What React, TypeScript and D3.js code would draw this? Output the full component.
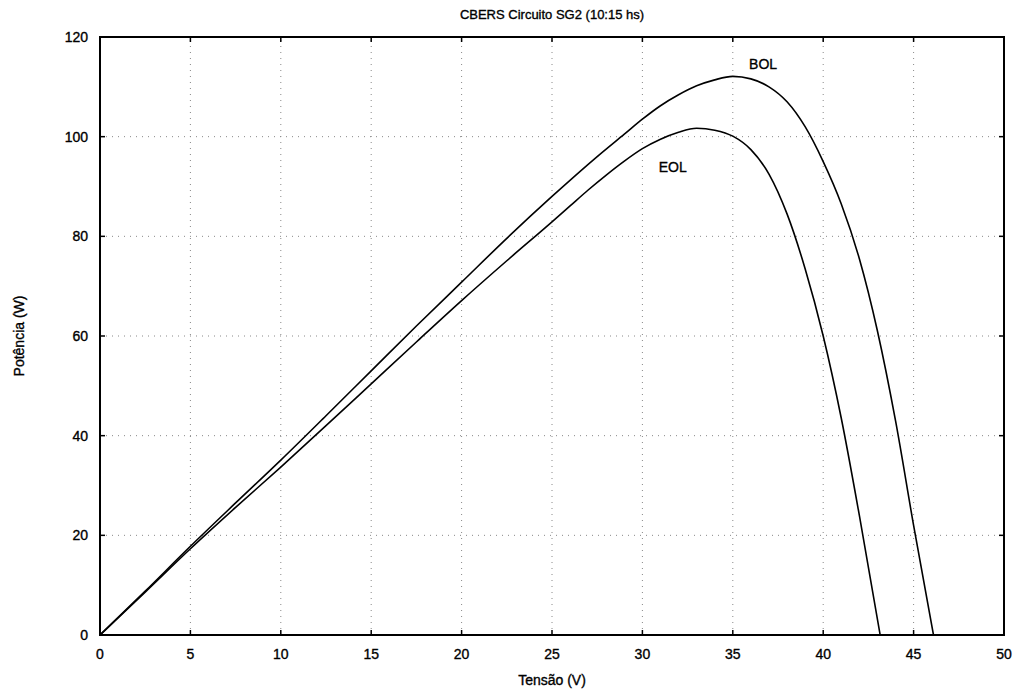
import React from "react";
import { scaleLinear, line, curveMonotoneX } from "d3";

// tensão (V) / potência (W)
const bolV = [0, 2.5, 5, 7.5, 10, 12.5, 15, 17.5, 20, 22.5, 25, 27.5, 29, 30, 31, 32, 33, 34, 35, 36, 37, 38, 39, 40, 41, 42, 43, 44, 45, 46.1, 50];
const bolP = [0, 8.8, 17.8, 26.5, 35.1, 44, 53, 62, 70.8, 79.6, 88, 96, 100.5, 103.5, 106.2, 108.4, 110.2, 111.4, 112.1, 111.6, 110, 107, 102, 95, 86.5, 75.5, 61, 43, 22, 0, 0];

const eolV = [0, 2.5, 5, 7.5, 10, 12.5, 15, 17.5, 20, 22.5, 25, 26, 27, 28, 29, 30, 31, 32, 33, 34, 35, 36, 37, 38, 39, 40, 41, 42, 43.15, 50];
const eolP = [0, 8.6, 17.3, 25.6, 33.7, 42, 50.4, 58.8, 67.1, 75.1, 82.9, 86.1, 89.3, 92.3, 95.1, 97.6, 99.5, 100.9, 101.7, 101.3, 100.1, 97.4, 92.5, 84.5, 73.5, 60, 43.5, 24, 0, 0];

const xTicks = [0, 5, 10, 15, 20, 25, 30, 35, 40, 45, 50];
const yTicks = [0, 20, 40, 60, 80, 100, 120];

const title = "CBERS Circuito SG2 (10:15 hs)";
const xLabel = "Tensão (V)";
const yLabel = "Potência (W)";

const W = 1026, H = 694;
const m = { left: 100, right: 22, top: 37, bottom: 59 };
const font = "'Liberation Sans', Arial, sans-serif";

export default function App() {
  const x = scaleLinear().domain([0, 50]).range([m.left, W - m.right]);
  const y = scaleLinear().domain([0, 120]).range([H - m.bottom, m.top]);

  // smooth curve up to the zero crossing, then straight along P = 0
  const curvePath = (vs: number[], ps: number[]) => {
    const pts = vs.map((v, i) => [v, ps[i]] as [number, number]);
    const cut = pts.findIndex((p, i) => i > 0 && p[1] === 0);
    const smooth = line<[number, number]>()
      .x((d) => x(d[0]))
      .y((d) => y(d[1]))
      .curve(curveMonotoneX)(pts.slice(0, cut + 1));
    const rest = pts.slice(cut + 1).map((p) => `L${x(p[0])},${y(p[1])}`).join("");
    return (smooth || "") + rest;
  };

  const bolPath = curvePath(bolV, bolP);
  const eolPath = curvePath(eolV, eolP);

  const x0 = x(0), x1 = x(50), y0 = y(0), y1 = y(120);

  return (
    <div style={{ position: "absolute", left: 0, top: 0 }}>
      <svg width={W} height={H} style={{ display: "block", background: "#fff" }}>
        {/* dotted grid */}
        <g stroke="#888" strokeWidth={1} strokeDasharray="1 5">
          {xTicks.slice(1, -1).map((t) => (
            <line key={"gx" + t} x1={x(t)} x2={x(t)} y1={y0} y2={y1} />
          ))}
          {yTicks.slice(1, -1).map((t) => (
            <line key={"gy" + t} x1={x0} x2={x1} y1={y(t)} y2={y(t)} />
          ))}
        </g>

        {/* inward ticks */}
        <g stroke="#000" strokeWidth={1.5}>
          {xTicks.map((t) => (
            <g key={"tx" + t}>
              <line x1={x(t)} x2={x(t)} y1={y0} y2={y0 - 5} />
              <line x1={x(t)} x2={x(t)} y1={y1} y2={y1 + 5} />
            </g>
          ))}
          {yTicks.map((t) => (
            <g key={"ty" + t}>
              <line x1={x0} x2={x0 + 5} y1={y(t)} y2={y(t)} />
              <line x1={x1} x2={x1 - 5} y1={y(t)} y2={y(t)} />
            </g>
          ))}
        </g>

        <path d={bolPath} fill="none" stroke="#000" strokeWidth={1.6} />
        <path d={eolPath} fill="none" stroke="#000" strokeWidth={1.6} />

        <rect x={x0} y={y1} width={x1 - x0} height={y0 - y1} fill="none" stroke="#000" strokeWidth={2} />

        <g fontFamily={font} fontSize={14} fill="#000" stroke="#000" strokeWidth={0.35}>
          {xTicks.map((t) => (
            <text key={"lx" + t} x={x(t)} y={y0 + 24} textAnchor="middle">{t}</text>
          ))}
          {yTicks.map((t) => (
            <text key={"ly" + t} x={x0 - 12} y={y(t) + 5} textAnchor="end">{t}</text>
          ))}
          <text x={(x0 + x1) / 2} y={19} textAnchor="middle" fontSize={13}>{title}</text>
          <text x={(x0 + x1) / 2} y={685} textAnchor="middle">{xLabel}</text>
          <text transform={`translate(24,${(y0 + y1) / 2}) rotate(-90)`} textAnchor="middle">{yLabel}</text>
          <text x={x(35.9)} y={y(113.6)}>BOL</text>
          <text x={x(30.9)} y={y(93)}>EOL</text>
        </g>
      </svg>
    </div>
  );
}
